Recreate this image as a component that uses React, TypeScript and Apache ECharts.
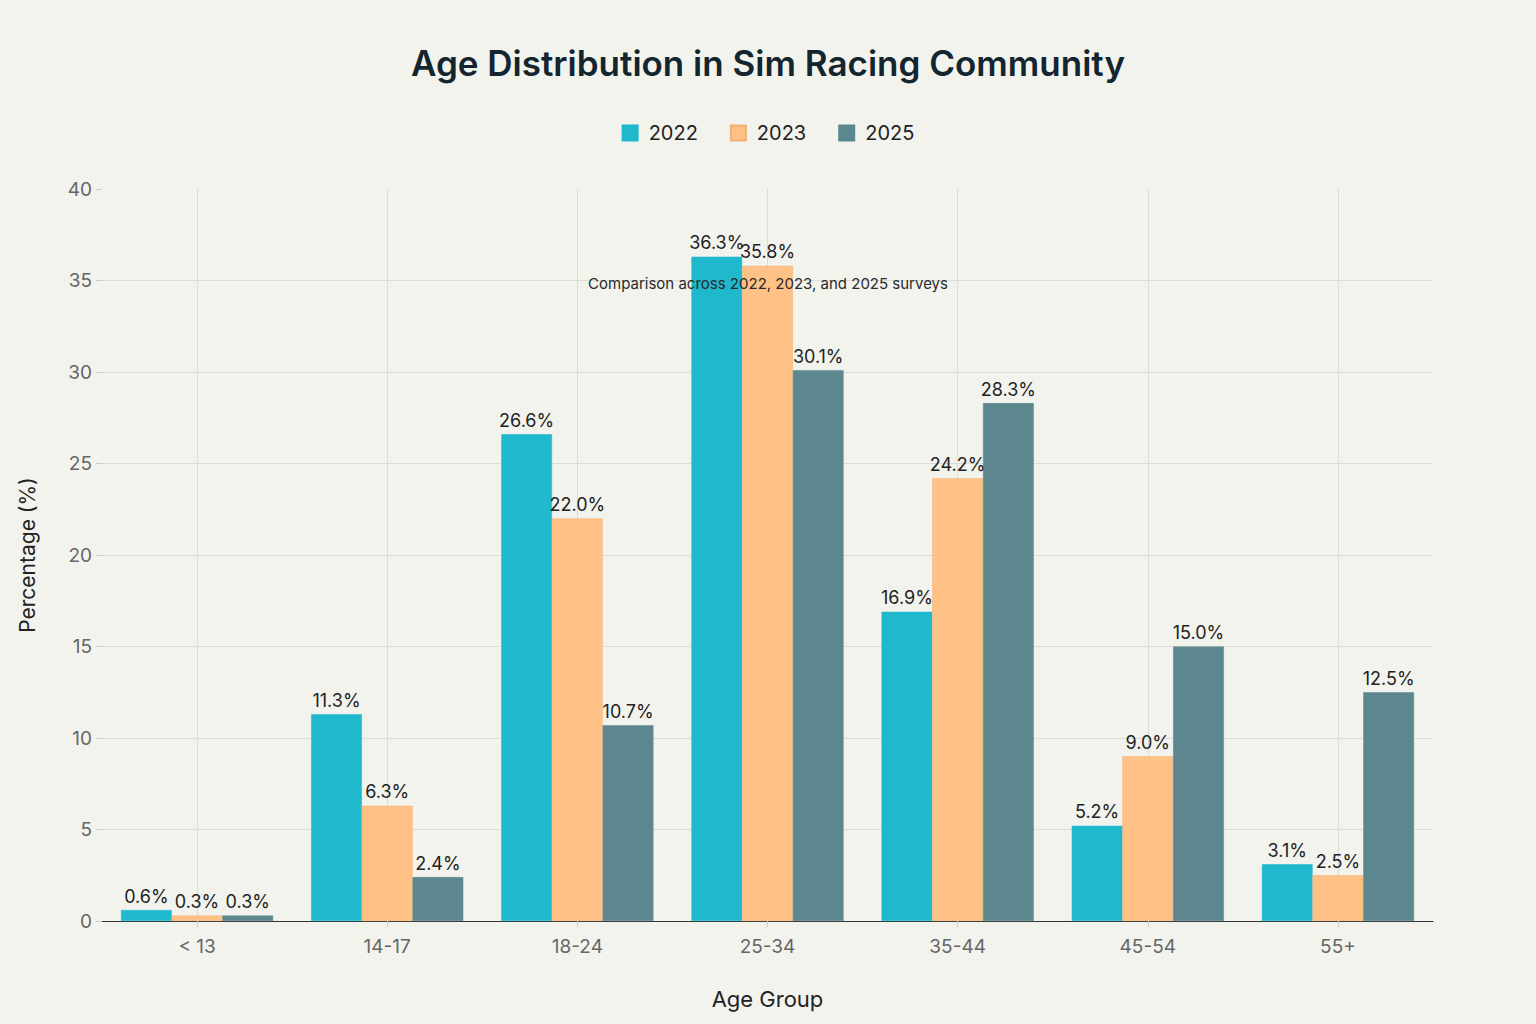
import React, { useEffect, useRef } from "react";
import * as echarts from "echarts";

const categories = ["< 13", "14-17", "18-24", "25-34", "35-44", "45-54", "55+"];
const seriesNames = ["2022", "2023", "2025"];
const values2022 = [0.6, 11.3, 26.6, 36.3, 16.9, 5.2, 3.1];
const values2023 = [0.3, 6.3, 22.0, 35.8, 24.2, 9.0, 2.5];
const values2025 = [0.3, 2.4, 10.7, 30.1, 28.3, 15.0, 12.5];
const colors = ["#1FB8CD", "#FFC185", "#5D878F"];

const FONT = "Inter, 'Open Sans', sans-serif";
const GRID = "#dcdcd8";

export default function App() {
  const ref = useRef<HTMLDivElement>(null);
  useEffect(() => {
    if (!ref.current) return;
    const chart = echarts.init(ref.current, null, { renderer: "svg" });
    const data = [values2022, values2023, values2025];
    chart.setOption({
      animation: false,
      backgroundColor: "#F3F3EE",
      textStyle: { fontFamily: FONT },
      title: [
        {
          text: "Age Distribution in Sim Racing Community",
          left: "center",
          top: 40,
          textStyle: { fontSize: 35, fontWeight: 600, color: "#13252E", fontFamily: FONT },
        },
        {
          text: "Comparison across 2022, 2023, and 2025 surveys",
          left: "center",
          top: 271,
          textStyle: { fontSize: 15, fontWeight: 400, color: "#2a2a2a", fontFamily: FONT },
          z: 10,
        },
      ],
      legend: {
        data: seriesNames,
        top: 118,
        left: "center",
        icon: "rect",
        itemWidth: 15,
        itemHeight: 15,
        itemGap: 32,
        textStyle: { fontSize: 20, color: "#222", fontFamily: FONT, padding: [0, 0, 0, 6] },
      },
      grid: { left: 102, right: 103, top: 189, bottom: 103 },
      xAxis: {
        type: "category",
        data: categories,
        name: "Age Group",
        nameLocation: "middle",
        nameGap: 67,
        nameTextStyle: { fontSize: 22, color: "#222", fontFamily: FONT },
        axisLine: { lineStyle: { color: "#333", width: 1 } },
        axisTick: { show: true, alignWithLabel: true, length: 6, lineStyle: { color: "#ccc" } },
        axisLabel: { fontSize: 19, color: "#666", margin: 16, fontFamily: FONT },
        splitLine: { show: true, alignWithLabel: true, lineStyle: { color: GRID, width: 1 } },
      },
      yAxis: {
        type: "value",
        min: 0,
        max: 40,
        interval: 5,
        name: "Percentage (%)",
        nameLocation: "middle",
        nameGap: 64,
        nameTextStyle: { fontSize: 21, color: "#222", fontFamily: FONT },
        axisLine: { show: false },
        axisTick: { show: true, length: 6, lineStyle: { color: "#ccc" } },
        axisLabel: { fontSize: 19, color: "#666", margin: 10, fontFamily: FONT },
        splitLine: {
          show: true,
          showMaxLine: false,
          lineStyle: { color: GRID, width: 1 },
        },
      },
      series: seriesNames.map((name, i) => ({
        name,
        type: "bar",
        data: data[i],
        barGap: "0%",
        barCategoryGap: "20%",
        itemStyle: { color: colors[i], borderColor: i === 1 ? "#f0b070" : colors[i], borderWidth: 0.5 },
        label: {
          show: true,
          position: "top",
          distance: 5,
          fontSize: 18,
          color: "#222",
          fontFamily: FONT,
          formatter: (p: any) => Number(p.value).toFixed(1) + "%",
        },
      })),
    });
    return () => chart.dispose();
  }, []);
  return (
    <div
      ref={ref}
      style={{ position: "fixed", left: 0, top: 0, width: 1536, height: 1024 }}
    />
  );
}
